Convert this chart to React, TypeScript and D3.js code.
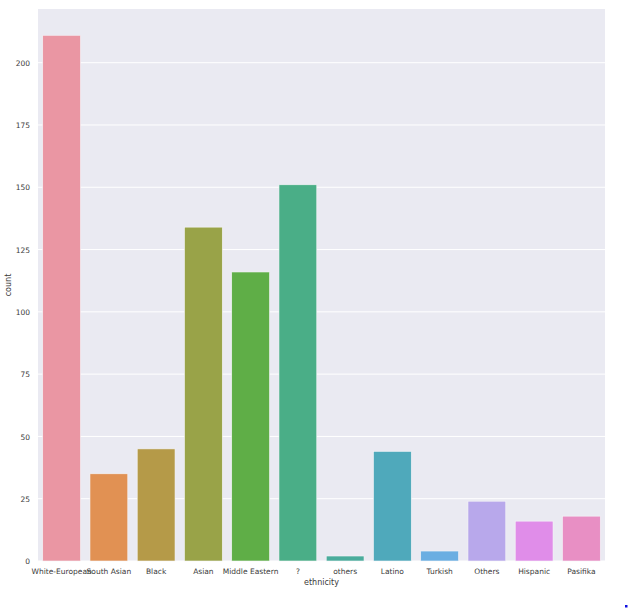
import React from "react";
import * as d3 from "d3";

const categories = [
  "White-European", "South Asian", "Black", "Asian", "Middle Eastern", "?",
  "others", "Latino", "Turkish", "Others", "Hispanic", "Pasifika",
];
const counts = [211, 35, 45, 134, 116, 151, 2, 44, 4, 24, 16, 18];
const colors = [
  "#ea96a3", "#e19153", "#b59a48", "#99a348", "#5fae47", "#4aae87",
  "#4aac9c", "#4fa9bb", "#6aaee2", "#b8a8eb", "#e08de9", "#e88fc4",
];
const yTicks = [0, 25, 50, 75, 100, 125, 150, 175, 200];

const W = 629, H = 610;
const M = { left: 38, top: 9, right: 605, bottom: 561 };

export default function App() {
  const x = d3.scaleBand<string>().domain(categories).range([M.left, M.right]).paddingInner(0.2).paddingOuter(0.1);
  const y = d3.scaleLinear().domain([0, d3.max(counts)! * 1.05]).range([M.bottom, M.top]);
  const font = "'DejaVu Sans', sans-serif";
  return (
    <svg width={W} height={H} style={{ position: "absolute", left: 0, top: 0 }}>
      <rect x={0} y={0} width={W} height={H} fill="#ffffff" />
      <rect x={M.left} y={M.top} width={M.right - M.left} height={M.bottom - M.top} fill="#eaeaf2" />
      {yTicks.map((t) => (
        <g key={t}>
          <line x1={M.left} x2={M.right} y1={y(t)} y2={y(t)} stroke="#ffffff" strokeWidth={1} />
          <text x={30} y={y(t) + 0.5} dy="0.35em" textAnchor="end" fontSize={7.5} fontFamily={font} fill="#3a3a3a">{t}</text>
        </g>
      ))}
      {categories.map((c, i) => (
        <rect key={c} x={x(c)!} width={x.bandwidth()} y={y(counts[i])} height={y(0) - y(counts[i])}
          fill={colors[i]} stroke="#f5f5f8" strokeWidth={0.6} />
      ))}
      {categories.map((c) => (
        <text key={c} x={x(c)! + x.bandwidth() / 2} y={571} dy="0.35em" textAnchor="middle" fontSize={7.5} fontFamily={font} fill="#3a3a3a">{c}</text>
      ))}
      <text x={(M.left + M.right) / 2} y={582} dy="0.35em" textAnchor="middle" fontSize={8} fontFamily={font} fill="#3a3a3a">ethnicity</text>
      <text transform={`translate(8,${(M.top + M.bottom) / 2}) rotate(-90)`} dy="0.35em" textAnchor="middle" fontSize={8} fontFamily={font} fill="#3a3a3a">count</text>
      <rect x={625} y={605} width={2.5} height={2.5} fill="#1010e0" />
    </svg>
  );
}
